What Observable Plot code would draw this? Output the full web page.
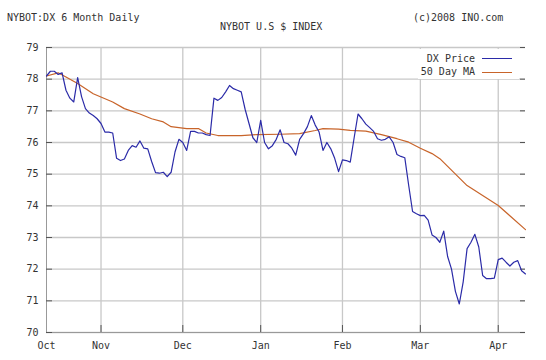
<!DOCTYPE html>
<html><head><meta charset="utf-8">
<script src="https://cdn.jsdelivr.net/npm/d3@7"></script>
<script src="https://cdn.jsdelivr.net/npm/@observablehq/plot@0.6"></script>
<style>
body{margin:0;background:#fff;}
#wrap{position:relative;width:546px;height:360px;font-family:"DejaVu Sans Mono",monospace;font-size:10px;color:#333;overflow:hidden;}
.t{position:absolute;white-space:pre;line-height:10px;}
#legend{position:absolute;left:418px;top:49px;width:101px;height:30px;background:#fff;}
.sw{position:absolute;height:0;width:30px;}
</style></head><body><div id="wrap"></div>
<script>
// Trading-day index (0 = Oct 12, 2007) and values
const priceValues = [
  78.1, 78.25, 78.25, 78.15, 78.2, 77.65, 77.4, 77.28, 78.05, 77.45,
  77.07, 76.93, 76.85, 76.75, 76.6, 76.33, 76.33, 76.3, 75.5, 75.43,
  75.48, 75.75, 75.9, 75.85, 76.05, 75.82, 75.8, 75.4, 75.05, 75.03,
  75.06, 74.92, 75.06, 75.7, 76.1, 76.0, 75.75, 76.35, 76.35, 76.3,
  76.3, 76.25, 76.22, 77.4, 77.33, 77.42, 77.6, 77.8, 77.7, 77.65,
  77.6, 77.05, 76.6, 76.15, 76.0, 76.7, 76.0, 75.8, 75.9, 76.1,
  76.4, 76.0, 75.96, 75.82, 75.6, 76.1, 76.28, 76.5, 76.85, 76.55,
  76.33, 75.75, 76.0, 75.8, 75.5, 75.08, 75.45, 75.43, 75.38, 76.15,
  76.9, 76.75, 76.58, 76.47, 76.35, 76.12, 76.07, 76.1, 76.18, 76.0,
  75.62, 75.56, 75.52, 74.65, 73.82, 73.75, 73.69, 73.7, 73.55, 73.08,
  73.0, 72.85, 73.2, 72.4, 72.0, 71.3, 70.9, 71.6, 72.65, 72.85,
  73.1, 72.7, 71.8, 71.7, 71.7, 71.72, 72.3, 72.35, 72.22, 72.1,
  72.22, 72.27, 71.95, 71.85
];
const maDays = [0, 3, 5, 8, 12, 17, 20, 24, 27, 30, 32, 36, 39, 41, 44, 50, 54, 60, 65, 69, 71, 75, 78, 82, 86, 90, 93, 96, 99, 101, 108, 116, 123];
const maValues = [78.1, 78.2, 78.07, 77.86, 77.54, 77.28, 77.07, 76.9, 76.75, 76.65, 76.5, 76.44, 76.44, 76.3, 76.22, 76.22, 76.25, 76.26, 76.28, 76.38, 76.44, 76.42, 76.38, 76.36, 76.25, 76.12, 76.01, 75.82, 75.65, 75.49, 74.64, 74.01, 73.25];
const monthTickDays = [0, 14, 35, 55, 76, 96, 116];
const monthLabels = ["Oct", "Nov", "Dec", "Jan", "Feb", "Mar", "Apr"];
const yTicks = [70, 71, 72, 73, 74, 75, 76, 77, 78, 79];

const price = priceValues.map((v, i) => ({day: i, value: v}));
const ma = maDays.map((d, i) => ({day: d, value: maValues[i]}));
const blue = "#2b2ba8", orange = "#c8642a";

const chart = Plot.plot({
  width: 546, height: 360,
  marginLeft: 46, marginRight: 21, marginTop: 47, marginBottom: 28,
  style: {fontFamily: "DejaVu Sans Mono, monospace", fontSize: "10px", color: "#333", background: "#fff"},
  x: {domain: [0, 123], label: null},
  y: {domain: [70, 79], label: null},
  marks: [
    Plot.gridX({ticks: monthTickDays.slice(1), stroke: "#c8c8c8", strokeOpacity: 1, strokeWidth: 1.3}),
    Plot.gridY({ticks: yTicks, stroke: "#c8c8c8", strokeOpacity: 1, strokeWidth: 1.3}),
    Plot.ruleX([0], {stroke: "#999"}),
    Plot.ruleY([70], {stroke: "#999"}),
    Plot.tickY(yTicks, {y: d => d, stroke: "#555", insetRight: 473}),
    Plot.tickY(yTicks, {y: d => d, stroke: "#555", insetLeft: 474}),
    Plot.tickX(monthTickDays.slice(1), {x: d => d, stroke: "#555", insetTop: 278}),
    Plot.axisY({ticks: yTicks, tickSize: 0, tickPadding: 8, fill: "#333", label: null, tickFormat: d => String(d)}),
    Plot.axisX({ticks: monthTickDays, tickSize: 0, tickPadding: 9, fill: "#333", label: null, tickFormat: d => monthLabels[monthTickDays.indexOf(d)]}),
    Plot.line(ma, {x: "day", y: "value", stroke: orange, strokeWidth: 1.2}),
    Plot.line(price, {x: "day", y: "value", stroke: blue, strokeWidth: 1.2})
  ]
});
const wrap = document.getElementById("wrap");
wrap.appendChild(chart);

function addText(txt, left, top) {
  const d = document.createElement("div");
  d.className = "t";
  d.textContent = txt;
  d.style.left = left + "px";
  d.style.top = top + "px";
  wrap.appendChild(d);
  return d;
}
addText("NYBOT:DX 6 Month Daily", 7, 13);
addText("NYBOT U.S $ INDEX", 220, 22);
addText("(c)2008 INO.com", 413, 13);

const leg = document.createElement("div");
leg.id = "legend";
wrap.appendChild(leg);
const seriesNames = ["DX Price", "50 Day MA"];
const seriesColors = [blue, orange];
seriesNames.forEach((name, i) => {
  const top = 4.5 + i * 13.5;
  const t = document.createElement("div");
  t.className = "t";
  t.textContent = name;
  t.style.right = (519 - 475) + "px";
  t.style.top = top + "px";
  leg.appendChild(t);
  const s = document.createElement("div");
  s.className = "sw";
  s.style.left = (482 - 418) + "px";
  s.style.top = (top + 4.5) + "px";
  s.style.borderTop = "1.2px solid " + seriesColors[i];
  leg.appendChild(s);
});
</script>
</body></html>
